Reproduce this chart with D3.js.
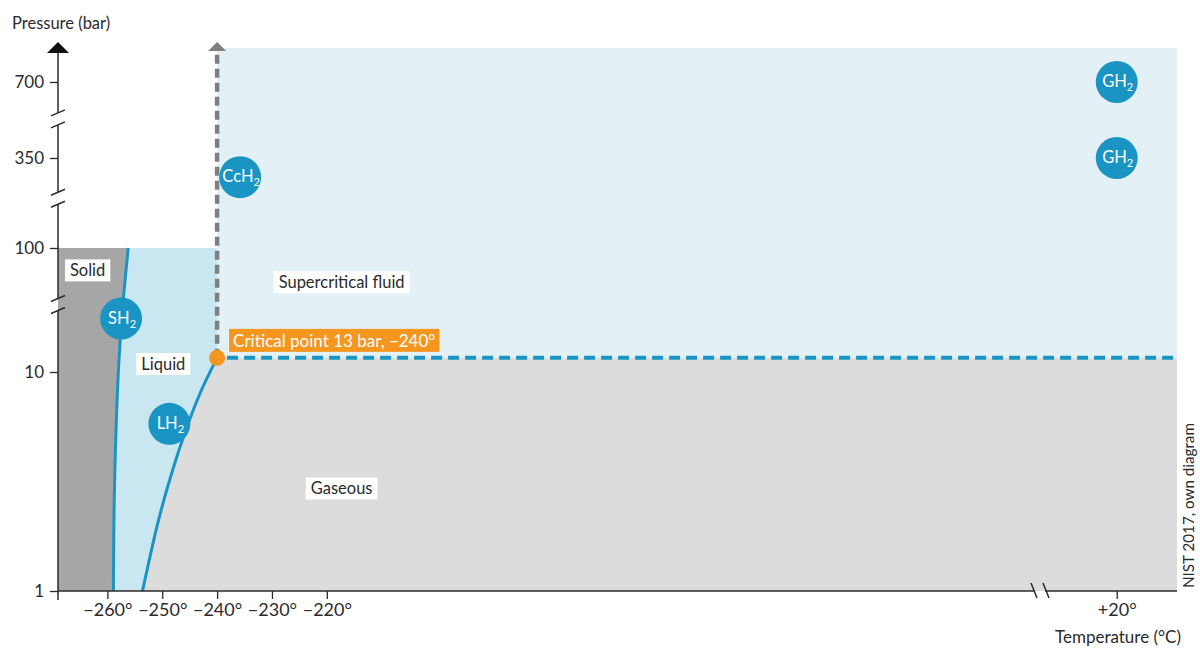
<!DOCTYPE html>
<html>
<head>
<meta charset="utf-8">
<script src="https://cdn.jsdelivr.net/npm/d3@7"></script>
<style>
  body { margin: 0; background: #fff; }
  svg { font-family: Lato, "Open Sans", sans-serif; }
</style>
</head>
<body>
<script>
// phase diagram of hydrogen
var pTicks = [1, 10, 100, 350, 700];
var tTicks = [-260, -250, -240, -230, -220, 20];

var meltP = [1, 3, 10, 30, 100];
var meltT = [-258.9, -258.7, -258.0, -257.3, -256.2];

var vapP = [1, 2, 3, 5, 8, 13];
var vapT = [-253.6, -250.9, -249.0, -246.2, -243.1, -240];

var critT = -240, critP = 13;
var solidTopP = 100;
var tMin = -269, tMax = 31, pMin = 1, pMax = 1000;

var bubbleNames = ['CcH', 'SH', 'LH', 'GH', 'GH'];
var bubbleT = [-235.8, -257.5, -248.7, 20, 20];
var bubbleP = [268, 27, 5.8, 700, 350];

var regionNames = ['Solid', 'Liquid', 'Supercritical fluid', 'Gaseous'];
var regionT = [-263.6, -249.8, -217.3, -217.3];
var regionP = [66, 11.6, 53, 2.94];

var yBreaks = [35, 200, 500];
var xBreak = -90;

var W = 1200, H = 648;
var svg = d3.select('body').append('svg').attr('width', W).attr('height', H);

// broken axes -> polylinear scales
var x = d3.scaleLinear().domain([tMin, xBreak, 6, tMax]).range([58, 1040, 1040, 1177]);
var y = d3.scaleLog().domain([1, 10, 100, 350, 700, pMax]).range([591, 372, 248, 158, 82, 48]);

var gray = '#dcdcdd', solidC = '#a6a6a7', liquidC = '#c9e7f1', superC = '#e3f1f7';
var blue = '#1a95c3', orange = '#f5961f', ink = '#2b2b2b';

// regions
svg.append('rect').attr('x', x(tMin)).attr('y', y(critP))
  .attr('width', x(tMax) - x(tMin)).attr('height', y(pMin) - y(critP)).attr('fill', gray);
svg.append('rect').attr('x', x(critT)).attr('y', y(pMax))
  .attr('width', x(tMax) - x(critT)).attr('height', y(critP) - y(pMax)).attr('fill', superC);
svg.append('rect').attr('x', x(tMin)).attr('y', y(solidTopP))
  .attr('width', x(critT) - x(tMin)).attr('height', y(pMin) - y(solidTopP)).attr('fill', liquidC);

var vap = vapP.map(function(p, i){ return {P: p, T: vapT[i]}; });
var melt = meltP.map(function(p, i){ return {P: p, T: meltT[i]}; });
var smooth = d3.curveCatmullRom.alpha(0.5);

svg.append('path').datum(vap)
  .attr('d', d3.area().curve(smooth)
    .y(function(d){ return y(d.P); })
    .x0(function(d){ return x(d.T); })
    .x1(x(critT) + 1))
  .attr('fill', gray);

svg.append('path').datum(melt)
  .attr('d', d3.area().curve(smooth)
    .y(function(d){ return y(d.P); })
    .x0(x(tMin))
    .x1(function(d){ return x(d.T); }))
  .attr('fill', solidC);

// dashed boundaries
svg.append('line')
  .attr('x1', x(critT)).attr('x2', x(critT))
  .attr('y1', y(critP)).attr('y2', 53)
  .attr('stroke', '#7f7f80').attr('stroke-width', 4.5).attr('stroke-dasharray', '9,5');
svg.append('path')
  .attr('d', 'M' + (x(critT) - 9) + ',51L' + x(critT) + ',42L' + (x(critT) + 9) + ',51Z')
  .attr('fill', '#7f7f80');

svg.append('line')
  .attr('x1', x(critT) + 10).attr('x2', x(tMax))
  .attr('y1', y(critP)).attr('y2', y(critP))
  .attr('stroke', blue).attr('stroke-width', 4).attr('stroke-dasharray', '11,6');

// phase curves
var curve = d3.line().curve(smooth)
  .x(function(d){ return x(d.T); })
  .y(function(d){ return y(d.P); });
svg.append('path').datum(melt).attr('d', curve)
  .attr('fill', 'none').attr('stroke', blue).attr('stroke-width', 3);
svg.append('path').datum(vap).attr('d', curve)
  .attr('fill', 'none').attr('stroke', blue).attr('stroke-width', 3);

// critical point
svg.append('circle').attr('cx', x(critT)).attr('cy', y(critP)).attr('r', 8).attr('fill', orange);
var cl = svg.append('g');
var clText = cl.append('text')
  .attr('x', x(critT) + 16).attr('y', y(critP) - 11)
  .attr('font-size', 17).attr('fill', '#fff')
  .text('Critical point ' + critP + ' bar, \u2212' + Math.abs(critT) + '\u00b0');
var bb = clText.node().getBBox();
cl.insert('rect', 'text').attr('x', bb.x - 4).attr('y', bb.y - 1)
  .attr('width', bb.width + 8).attr('height', bb.height + 2).attr('fill', orange);

// region labels on white boxes
regionNames.forEach(function(name, i){
  var g = svg.append('g');
  var t = g.append('text')
    .attr('x', x(regionT[i])).attr('y', y(regionP[i]))
    .attr('text-anchor', 'middle').attr('dominant-baseline', 'central')
    .attr('font-size', 16.5).attr('fill', ink).text(name);
  var b = t.node().getBBox();
  g.insert('rect', 'text').attr('x', b.x - 5).attr('y', b.y - 1)
    .attr('width', b.width + 10).attr('height', b.height + 2).attr('fill', '#fff');
});

// bubbles
var bubbles = svg.selectAll('g.bubble')
  .data(bubbleNames.map(function(n, i){ return {name: n, T: bubbleT[i], P: bubbleP[i]}; }))
  .enter().append('g').attr('class', 'bubble')
  .attr('transform', function(d){ return 'translate(' + x(d.T) + ',' + y(d.P) + ')'; });
bubbles.append('circle').attr('r', 21).attr('fill', blue);
var bt = bubbles.append('text')
  .attr('text-anchor', 'middle').attr('x', 1).attr('y', 5)
  .attr('font-size', 16.5).attr('fill', '#fff');
bt.append('tspan').text(function(d){ return d.name; });
bt.append('tspan').attr('font-size', 11).attr('dy', 4).text('2');

// y axis
var yAxis = svg.append('g').attr('transform', 'translate(58,0)')
  .call(d3.axisLeft(y).tickValues(pTicks).tickFormat(d3.format('d')).tickSize(8).tickPadding(6));
yAxis.select('.domain').remove();
yAxis.selectAll('text').attr('font-size', 17).attr('fill', ink).style('font-family', 'Lato, sans-serif');
yAxis.selectAll('line').attr('stroke', ink).attr('stroke-width', 1.3);

var ySegs = [y(pMin) + 9].concat(yBreaks.map(function(p){ return y(p); })).concat([50]);
for (var i = 0; i < ySegs.length - 1; i++) {
  var a = ySegs[i], b2 = ySegs[i + 1];
  svg.append('line').attr('x1', 58).attr('x2', 58)
    .attr('y1', i === 0 ? a : a - 6).attr('y2', i === ySegs.length - 2 ? b2 : b2 + 6)
    .attr('stroke', ink).attr('stroke-width', 1.5);
}
yBreaks.forEach(function(p){
  var c = y(p);
  [-6, 6].forEach(function(o){
    svg.append('line').attr('x1', 51).attr('x2', 65)
      .attr('y1', c + o + 3).attr('y2', c + o - 3)
      .attr('stroke', ink).attr('stroke-width', 1.5);
  });
});
svg.append('path').attr('d', 'M47,53L58,42L69,53Z').attr('fill', '#111');

// x axis
var xAxis = svg.append('g').attr('transform', 'translate(0,' + y(pMin) + ')')
  .call(d3.axisBottom(x).tickValues(tTicks).tickSize(8).tickPadding(4)
    .tickFormat(function(d){ return (d > 0 ? '+' : '\u2212') + Math.abs(d) + '\u00b0'; }));
xAxis.select('.domain').remove();
xAxis.selectAll('text').attr('font-size', 18).attr('fill', ink).style('font-family', 'Lato, sans-serif');
xAxis.selectAll('line').attr('stroke', ink).attr('stroke-width', 1.3);

var xb = x(xBreak);
svg.append('line').attr('x1', 58).attr('x2', xb - 5).attr('y1', y(pMin)).attr('y2', y(pMin))
  .attr('stroke', ink).attr('stroke-width', 1.5);
svg.append('line').attr('x1', xb + 5).attr('x2', x(tMax)).attr('y1', y(pMin)).attr('y2', y(pMin))
  .attr('stroke', ink).attr('stroke-width', 1.5);
[-6, 6].forEach(function(o){
  svg.append('line').attr('x1', xb + o - 3).attr('x2', xb + o + 3)
    .attr('y1', y(pMin) - 8).attr('y2', y(pMin) + 7)
    .attr('stroke', ink).attr('stroke-width', 1.5);
});

// axis titles and source
svg.append('text').attr('x', 12).attr('y', 29).attr('font-size', 16.5).attr('fill', ink).text('Pressure (bar)');
svg.append('text').attr('x', 1181).attr('y', 643).attr('text-anchor', 'end')
  .attr('font-size', 17).attr('fill', ink).text('Temperature (\u00b0C)');
svg.append('text').attr('transform', 'translate(1194,588) rotate(-90)')
  .attr('font-size', 15.2).attr('fill', ink).text('NIST 2017, own diagram');
</script>
</body>
</html>
